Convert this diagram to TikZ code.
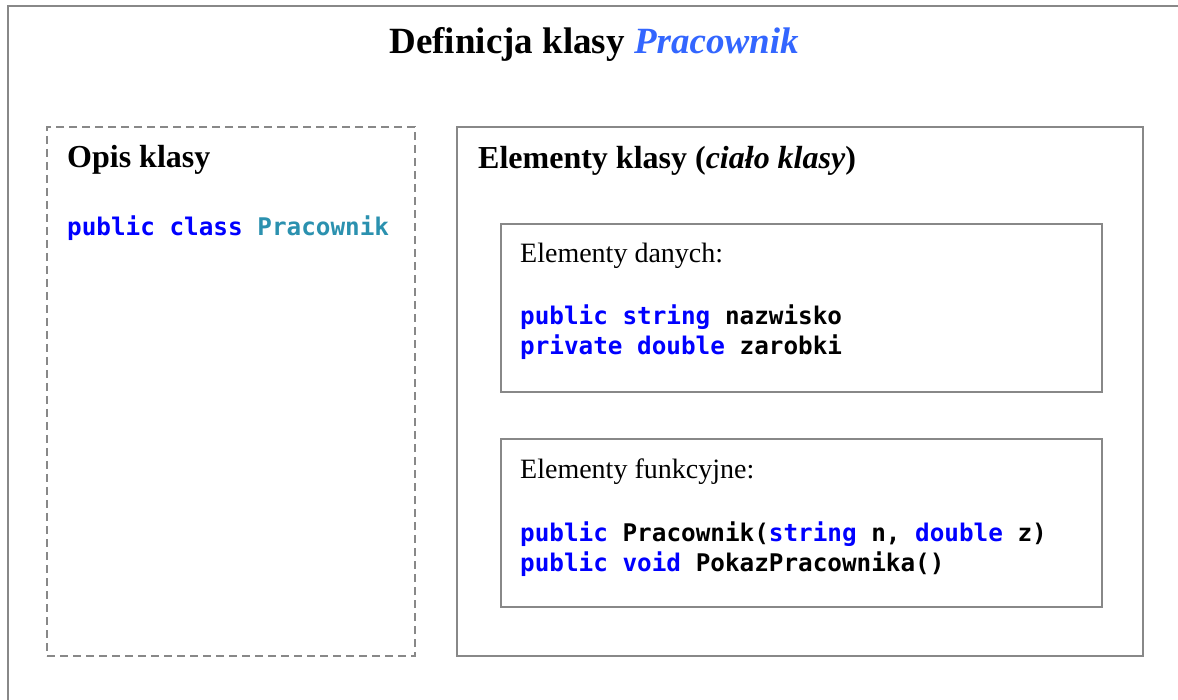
\documentclass[tikz,border=0pt]{standalone}
\usepackage{fontspec}
\setmainfont{Liberation Serif}
\setmonofont{DejaVu Sans Mono}
\usetikzlibrary{positioning}
\definecolor{kwblue}{RGB}{0,0,255}
\definecolor{typeteal}{RGB}{43,145,175}
\definecolor{titleblue}{RGB}{51,102,255}
\definecolor{framegray}{RGB}{136,136,136}

\begin{document}
\begin{tikzpicture}[x=1pt,y=-1pt,
    frame/.style={draw=framegray,line width=2pt},
    box/.style={frame,anchor=north west,inner sep=0pt},
    head/.style={anchor=base west,inner sep=0pt,font=\fontsize{32}{38}\selectfont\bfseries},
    lbl/.style={anchor=base west,inner sep=0pt,font=\fontsize{28}{34}\selectfont},
    code/.style={anchor=base west,inner sep=0pt,font=\fontsize{24.3}{31}\selectfont\ttfamily\bfseries}]
  \useasboundingbox (0,0) rectangle (1178,700);
  \draw[frame] (8,700) -- (8,6) -- (1178,6);
  \node[anchor=base,inner sep=0pt,font=\fontsize{37}{44}\selectfont\bfseries] (title) at (594,54) {Definicja klasy \textcolor{titleblue}{\itshape Pracownik}};

  % opis klasy
  \node[box,dashed,dash pattern=on 8pt off 5pt,minimum width=368pt,minimum height=529pt] (opis) at (46,126) {};
  \node[head] (opisT) at (67,168) {Opis klasy};
  \node[code] (decl) at (67,236) {\textcolor{kwblue}{public class} \textcolor{typeteal}{Pracownik}};

  % cialo klasy
  \node[box,minimum width=686pt,minimum height=529pt] (cialo) at (456,126) {};
  \node[head] (cialoT) at (478,169) {Elementy klasy (\textit{ciało klasy})};

  \node[box,minimum width=601pt,minimum height=168pt] (dane) at (500,223) {};
  \node[lbl] (daneT) at (520,263) {Elementy danych:};
  \node[code] (d1) at (520,325) {\textcolor{kwblue}{public string} nazwisko};
  \node[code] (d2) at (520,355) {\textcolor{kwblue}{private double} zarobki};

  \node[box,minimum width=601pt,minimum height=168pt] (funk) at (500,438) {};
  \node[lbl] (funkT) at (520,478) {Elementy funkcyjne:};
  \node[code] (f1) at (520,541) {\textcolor{kwblue}{public} Pracownik(\textcolor{kwblue}{string} n, \textcolor{kwblue}{double} z)};
  \node[code] (f2) at (520,571) {\textcolor{kwblue}{public void} PokazPracownika()};
\end{tikzpicture}
\end{document}
